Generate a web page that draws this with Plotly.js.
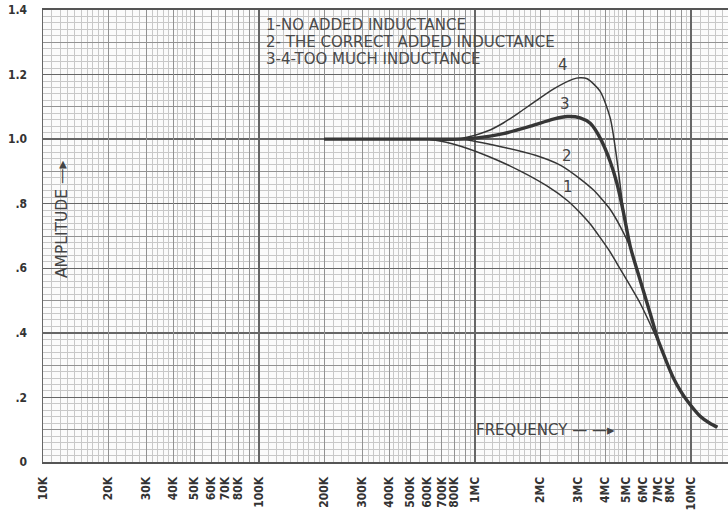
<!DOCTYPE html>
<html>
<head>
<meta charset="utf-8">
<script src="https://cdn.plot.ly/plotly-3.0.1.min.js"></script>
<style>html,body{margin:0;padding:0;background:#fff;}#chart{width:728px;height:511px;}</style>
</head>
<body>
<div id="chart"></div>
<script>
// ---- data (frequency in Hz, amplitude relative) ----
const tickVals = [1e4,2e4,3e4,4e4,5e4,6e4,7e4,8e4,1e5,2e5,3e5,4e5,5e5,6e5,7e5,8e5,1e6,2e6,3e6,4e6,5e6,6e6,7e6,8e6,1e7];
const tickText = ['10K','20K','30K','40K','50K','60K','70K','80K','100K','200K','300K','400K','500K','600K','700K','800K','1MC','2MC','3MC','4MC','5MC','6MC','7MC','8MC','10MC'];
const yTickVals = [0,0.2,0.4,0.6,0.8,1.0,1.2,1.4];
const yTickText = ['0','.2','.4','.6','.8','1.0','1.2','1.4'];

const f1 = [2e5,4e5,6.1e5,7.9e5,1.14e6,1.62e6,2.15e6,2.67e6,3.06e6,3.41e6,3.79e6,4.22e6,4.69e6,5.81e6,6.67e6,7.33e6,7.83e6,8.25e6,8.89e6,9.58e6,1.1e7,1.22e7,1.32e7];
const a1 = [1.0,1.0,1.0,0.985,0.948,0.901,0.855,0.81,0.772,0.737,0.695,0.65,0.598,0.491,0.407,0.346,0.297,0.262,0.222,0.19,0.142,0.12,0.108];

const f2 = [2e5,4e5,6.1e5,8.7e5,1.35e6,1.9e6,2.5e6,3.06e6,3.52e6,3.79e6,4.22e6,4.69e6,5.22e6,5.81e6,6.46e6,7.03e6,7.33e6,7.83e6,8.25e6,8.89e6,9.58e6,1.1e7,1.22e7,1.32e7];
const a2 = [1.0,1.0,1.0,1.0,0.975,0.95,0.918,0.877,0.843,0.82,0.782,0.73,0.665,0.562,0.46,0.377,0.346,0.297,0.262,0.222,0.19,0.142,0.12,0.108];

const f3 = [2e5,4e5,6.1e5,8.7e5,1.0e6,1.35e6,1.8e6,2.3e6,2.67e6,3.06e6,3.41e6,3.79e6,4.22e6,4.54e6,4.84e6,5.22e6,5.81e6,6.46e6,7.03e6,7.33e6,7.83e6,8.25e6,8.89e6,9.58e6,1.1e7,1.22e7,1.32e7];
const a3 = [1.0,1.0,1.0,1.0,1.003,1.017,1.04,1.062,1.07,1.066,1.049,1.003,0.93,0.861,0.778,0.668,0.562,0.46,0.377,0.346,0.297,0.262,0.222,0.19,0.142,0.12,0.108];

const f4 = [2e5,4e5,6.1e5,8.7e5,1.14e6,1.35e6,1.62e6,1.86e6,2.3e6,2.84e6,3.06e6,3.3e6,3.79e6,4.22e6,4.54e6,4.79e6,5.05e6,5.22e6,5.81e6,6.46e6,7.03e6,7.33e6,7.83e6,8.25e6,8.89e6,9.58e6,1.1e7,1.22e7,1.32e7];
const a4 = [1.0,1.0,1.0,1.003,1.025,1.05,1.085,1.113,1.155,1.186,1.19,1.187,1.148,1.065,0.932,0.809,0.707,0.668,0.562,0.46,0.377,0.346,0.297,0.262,0.222,0.19,0.142,0.12,0.108];

const curveLabels = ['1','2','3','4'];
const legendLines = ['1-NO ADDED INDUCTANCE','2- THE CORRECT ADDED INDUCTANCE','3-4-TOO MUCH INDUCTANCE'];

// ---- grid tick positions (graph-paper rulings) ----
const XMAX = 1.48e7;
const decades = [1e4,1e5,1e6,1e7];
const fine = [], medium = [];
decades.forEach(d => {
  const steps = [];
  for (let m = 1.1; m < 2.0001; m += 0.1) steps.push(m);
  for (let m = 2.2; m < 5.0001; m += 0.2) steps.push(m);
  for (let m = 5.5; m < 10.0001; m += 0.5) steps.push(m);
  steps.forEach(m => {
    const v = d * Math.round(m*10)/10;
    if (v > XMAX) return;
    const isInt = Math.abs(m - Math.round(m)) < 1e-6;
    if (isInt) { if (Math.round(m) !== 10) medium.push(v); }
    else fine.push(v);
  });
});
const yMid = [0.1,0.3,0.5,0.7,0.9,1.1,1.3];

const ink = '#363636';
const lab = 'DejaVu Sans Condensed, Liberation Sans Narrow, sans-serif';
const txt = 'DejaVu Sans, Liberation Sans, sans-serif';
const xr = [4, Math.log10(XMAX)];

function mk(f, a, w) {
  return {x: f, y: a, type: 'scatter', mode: 'lines', line: {color: ink, width: w, shape: 'spline', smoothing: 0.7}, hoverinfo: 'skip', showlegend: false, xaxis: 'x', yaxis: 'y'};
}
const traces = [
  {x: [], y: [], type: 'scatter', xaxis: 'x2', yaxis: 'y', showlegend: false},
  {x: [], y: [], type: 'scatter', xaxis: 'x3', yaxis: 'y', showlegend: false},
  {x: [], y: [], type: 'scatter', xaxis: 'x', yaxis: 'y2', showlegend: false},
  mk(f1, a1, 1.5), mk(f2, a2, 1.5), mk(f4, a4, 1.5), mk(f3, a3, 3.4)
];

// pixel helpers for text placement
const L = 43, T = 10, W = 685, H = 452;
const px = x => (x - L) / W, py = y => (T + H - y) / H;

const annFont = {family: txt, size: 15, color: '#4a4a4a'};
const annotations = [];
legendLines.forEach((t, i) => annotations.push({xref: 'paper', yref: 'paper', x: px(264), y: py(25 + i*17), text: t, showarrow: false, xanchor: 'left', yanchor: 'middle', font: annFont}));
const lblPos = [[568,187],[567,156],[565,104],[563,65]];
curveLabels.forEach((t, i) => annotations.push({xref: 'paper', yref: 'paper', x: px(lblPos[i][0]), y: py(lblPos[i][1]), text: t, showarrow: false, xanchor: 'center', yanchor: 'middle', font: {family: txt, size: 15, color: '#444'}}));
annotations.push({xref: 'paper', yref: 'paper', x: px(62), y: py(220), text: 'AMPLITUDE —▸', textangle: -90, showarrow: false, xanchor: 'center', yanchor: 'middle', font: {family: txt, size: 15.5, color: '#444'}});
annotations.push({xref: 'paper', yref: 'paper', x: px(545), y: py(430), text: 'FREQUENCY — —▸', showarrow: false, xanchor: 'center', yanchor: 'middle', font: {family: txt, size: 15, color: '#444'}});

const layout = {
  width: 728, height: 511,
  margin: {l: L, r: 0, t: T, b: 511 - T - H, pad: 0},
  paper_bgcolor: '#ffffff', plot_bgcolor: '#fbfbfb',
  showlegend: false,
  xaxis: {type: 'log', range: xr, tickmode: 'array', tickvals: tickVals, ticktext: tickText, tickangle: -90,
    tickfont: {family: lab, size: 12, weight: 'bold', color: '#333'}, ticks: '', ticklabelstandoff: 8,
    showgrid: false, zeroline: false, showline: true, linecolor: '#555', linewidth: 2, mirror: true,
    minor: {tickmode: 'array', tickvals: fine, showgrid: true, gridcolor: '#c8c8c8', gridwidth: 1, ticks: ''}},
  xaxis2: {type: 'log', range: xr, overlaying: 'x', anchor: 'y', tickmode: 'array', tickvals: medium, showticklabels: false,
    ticks: '', showgrid: true, gridcolor: '#929292', gridwidth: 1, zeroline: false, showline: false},
  xaxis3: {type: 'log', range: xr, overlaying: 'x', anchor: 'y', tickmode: 'array', tickvals: decades, showticklabels: false,
    ticks: '', showgrid: true, gridcolor: '#666', gridwidth: 1.6, zeroline: false, showline: false},
  yaxis: {range: [0, 1.4], tickmode: 'array', tickvals: yTickVals, ticktext: yTickText,
    tickfont: {family: lab, size: 12, weight: 'bold', color: '#333'}, ticks: '', ticklabelstandoff: 12,
    showgrid: true, gridcolor: '#666', gridwidth: 1.4, zeroline: false, showline: true, linecolor: '#666', linewidth: 1.5,
    minor: {dtick: 0.02, showgrid: true, gridcolor: '#c8c8c8', gridwidth: 1, ticks: ''}},
  yaxis2: {range: [0, 1.4], overlaying: 'y', anchor: 'x', tickmode: 'array', tickvals: yMid, showticklabels: false,
    ticks: '', showgrid: true, gridcolor: '#929292', gridwidth: 1, zeroline: false, showline: false},
  annotations: annotations
};

Plotly.newPlot('chart', traces, layout, {staticPlot: true, displayModeBar: false});
</script>
</body>
</html>
